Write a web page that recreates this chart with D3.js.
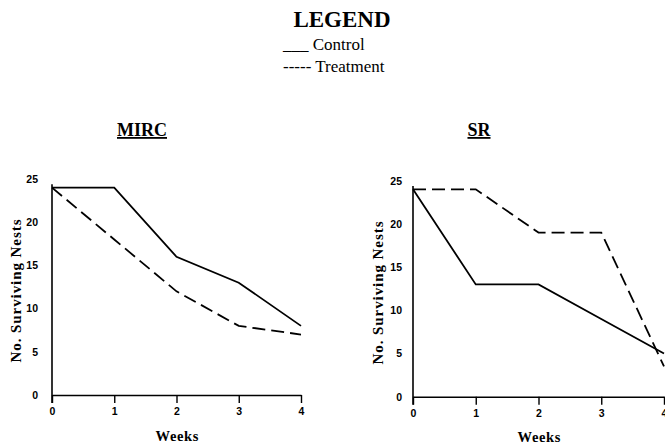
<!DOCTYPE html>
<html>
<head>
<meta charset="utf-8">
<script src="https://cdn.jsdelivr.net/npm/d3@7"></script>
<style>
  html, body { margin: 0; padding: 0; background: #fff; }
  svg { display: block; }
</style>
</head>
<body>
<svg id="chart" width="665" height="445"></svg>
<script>
const weeks = [0, 1, 2, 3, 4];
const yTicks = [0, 5, 10, 15, 20, 25];
const panelTitles = ["MIRC", "SR"];
const mircControl = [24, 24, 16, 13, 8];
const mircTreatment = [24, 18, 12, 8, 7];
const srControl = [24, 13, 13, 9, 5];
const srTreatment = [24, 24, 19, 19, 3.5];
const legendTitle = "LEGEND";
const legendItems = ["___ Control", "----- Treatment"];

const svg = d3.select("#chart");
const serif = "'Liberation Serif', 'Times New Roman', serif";
const sans = "'Liberation Sans', Arial, sans-serif";

// Legend
svg.append("text").attr("x", 342).attr("y", 27).attr("text-anchor", "middle")
  .style("font-family", serif).style("font-weight", "bold").style("font-size", "23px")
  .text(legendTitle);
legendItems.forEach((t, i) => {
  svg.append("text").attr("x", 283).attr("y", 50 + i * 21.5)
    .attr("xml:space", "preserve")
    .style("font-family", serif).style("font-size", "17px")
    .text(t);
});

const panels = [
  { title: panelTitles[0], titleX: 142, x0: 52, x1: 301, y0: 395, control: mircControl, treatment: mircTreatment, ylabX: 16, ylabY: 291, weeksX: 177, weeksY: 441 },
  { title: panelTitles[1], titleX: 479, x0: 413, x1: 664, y0: 396.7, control: srControl, treatment: srTreatment, ylabX: 378, ylabY: 293, weeksX: 539, weeksY: 442 }
];

panels.forEach(p => {
  const x = d3.scaleLinear().domain([0, 4]).range([p.x0, p.x1]);
  const unit = 8.64;
  const y = d3.scaleLinear().domain([0, 25]).range([p.y0, p.y0 - 25 * unit]);
  const g = svg.append("g");

  // title
  g.append("text").attr("x", p.titleX).attr("y", 136).attr("text-anchor", "middle")
    .style("font-family", serif).style("font-weight", "bold").style("font-size", "18px")
    .style("text-decoration", "underline")
    .text(p.title);

  // x axis
  const xa = g.append("g").attr("transform", `translate(0,${p.y0})`)
    .call(d3.axisBottom(x).tickValues(weeks).tickFormat(d3.format("d")).tickSize(8).tickSizeOuter(0).tickPadding(5));
  xa.select(".domain").attr("stroke", "#000").attr("stroke-width", 1.6);
  xa.selectAll(".tick line").attr("stroke", "#000").attr("stroke-width", 1.4);
  xa.selectAll(".tick text").style("font-family", sans).style("font-weight", "bold").style("font-size", "10.5px").attr("fill", "#000");

  // y axis
  const ya = g.append("g").attr("transform", `translate(${p.x0},0)`)
    .call(d3.axisLeft(y).tickValues(yTicks).tickSize(0).tickPadding(p.x0 > 300 ? 11 : 14));
  ya.select(".domain").attr("stroke", "#000").attr("stroke-width", 1.6)
    .attr("d", `M0,${y(24.4)}V${p.y0 + 8}`);
  ya.selectAll(".tick text").style("font-family", sans).style("font-weight", "bold").style("font-size", "10.5px").attr("fill", "#000");

  // axis titles
  g.append("text")
    .attr("transform", `translate(${p.ylabX},${p.ylabY}) rotate(-90)`)
    .attr("text-anchor", "middle").attr("dy", "0.35em")
    .attr("textLength", 143).attr("lengthAdjust", "spacing")
    .style("font-family", serif).style("font-weight", "bold").style("font-size", "15px")
    .text("No. Surviving Nests");
  g.append("text").attr("x", p.weeksX).attr("y", p.weeksY).attr("text-anchor", "middle")
    .attr("textLength", 43).attr("lengthAdjust", "spacing")
    .style("font-family", serif).style("font-weight", "bold").style("font-size", "14.5px")
    .text("Weeks");

  const line = d3.line().x((d, i) => x(weeks[i])).y(d => y(d));
  g.append("path").datum(p.control).attr("d", line)
    .attr("fill", "none").attr("stroke", "#000").attr("stroke-width", 1.8);
  g.append("path").datum(p.treatment).attr("d", line)
    .attr("fill", "none").attr("stroke", "#000").attr("stroke-width", 1.8)
    .attr("stroke-dasharray", "13,6");
});
</script>
</body>
</html>
